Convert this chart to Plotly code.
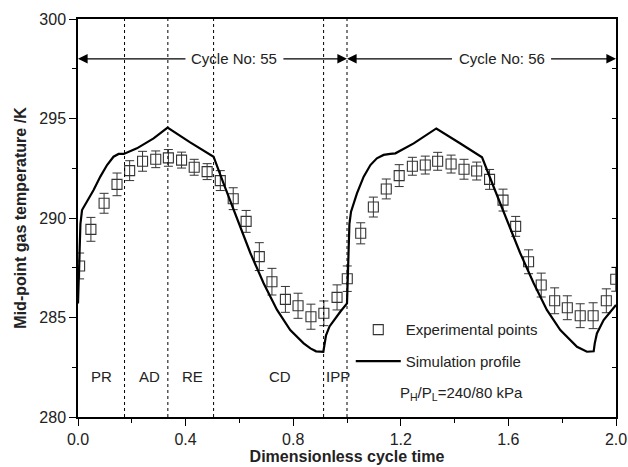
import plotly.graph_objects as go

# Experimental points (dimensionless time, temperature K, error K)
exp_x = [0.006, 0.048, 0.097, 0.145, 0.192, 0.240, 0.289, 0.336, 0.385, 0.432, 0.480,
         0.529, 0.577, 0.625, 0.674, 0.721, 0.771, 0.818, 0.866, 0.914, 0.963, 1.001,
         1.051, 1.098, 1.146, 1.194, 1.243, 1.291, 1.337, 1.387, 1.435, 1.482, 1.530,
         1.580, 1.627, 1.675, 1.722, 1.772, 1.819, 1.867, 1.915, 1.964, 1.999]
exp_y = [287.59, 289.43, 290.74, 291.69, 292.38, 292.85, 292.95, 293.02, 292.91, 292.55, 292.33,
         291.88, 290.97, 289.83, 288.06, 286.80, 285.91, 285.59, 285.04, 285.21, 286.01, 286.95,
         289.23, 290.55, 291.46, 292.13, 292.60, 292.66, 292.85, 292.71, 292.45, 292.36, 291.94,
         290.90, 289.58, 287.80, 286.63, 285.84, 285.49, 285.09, 285.09, 285.84, 286.92]
exp_err = [0.65, 0.6, 0.5, 0.57, 0.5, 0.5, 0.42, 0.42, 0.4, 0.4, 0.4,
           0.5, 0.55, 0.55, 0.7, 0.67, 0.65, 0.63, 0.63, 0.62, 0.63, 0.64,
           0.53, 0.5, 0.5, 0.55, 0.45, 0.45, 0.45, 0.45, 0.5, 0.45, 0.5,
           0.55, 0.5, 0.6, 0.6, 0.65, 0.6, 0.6, 0.65, 0.6, 0.6]

# Simulation profile
sim_x = [0.0, 0.004, 0.009, 0.015, 0.033, 0.058, 0.083, 0.108, 0.132, 0.151, 0.170,
         0.219, 0.281, 0.333, 0.417, 0.504, 0.541, 0.591, 0.641, 0.690, 0.740, 0.789,
         0.839, 0.864, 0.885, 0.912, 0.917, 0.922, 0.935, 0.950, 0.975, 1.0,
         1.004, 1.009, 1.015, 1.037, 1.062, 1.087, 1.111, 1.136, 1.161, 1.180,
         1.248, 1.332, 1.417, 1.502, 1.545, 1.607, 1.644, 1.694, 1.743, 1.793,
         1.830, 1.855, 1.892, 1.917, 1.921, 1.929, 1.954, 1.978, 2.0]
sim_y = [285.70, 288.0, 289.7, 290.40, 290.82, 291.41, 292.08, 292.66, 293.08, 293.22, 293.22,
         293.50, 294.00, 294.54, 293.80, 293.08, 291.74, 290.00, 288.23, 286.72, 285.38, 284.37,
         283.70, 283.45, 283.30, 283.28, 283.60, 284.10, 284.55, 284.85, 285.29, 285.71,
         288.0, 289.7, 290.32, 291.24, 292.08, 292.66, 293.00, 293.17, 293.22, 293.25,
         293.75, 294.50, 293.78, 293.05, 291.57, 289.50, 288.23, 286.72, 285.38, 284.37,
         283.85, 283.53, 283.28, 283.30, 283.70, 284.20, 284.87, 285.29, 285.63]

phase_bounds = [0.173, 0.334, 0.504, 0.913, 1.0]
phase_labels = ["PR", "AD", "RE", "CD", "IPP"]
phase_label_x = [0.086, 0.264, 0.427, 0.75, 0.965]

FONT = "Arial, Liberation Sans, sans-serif"
TXT = "#222222"

fig = go.Figure()
fig.add_trace(go.Scatter(
    x=exp_x, y=exp_y, mode="markers", name="Experimental points",
    legendgroup="a",
    marker=dict(symbol="square-open", size=10, color="#333333", line=dict(width=1.1, color="#333333")),
    error_y=dict(type="data", array=exp_err, visible=True, color="#333333", thickness=1, width=4.5),
))
fig.add_trace(go.Scatter(
    x=sim_x, y=sim_y, mode="lines", name="Simulation profile",
    legendgroup="b",
    line=dict(color="black", width=2.2),
))
# invisible trace for right-side inward ticks
fig.add_trace(go.Scatter(x=[0, 2], y=[280, 300], yaxis="y2", mode="markers",
                         marker=dict(opacity=0), showlegend=False, hoverinfo="skip"))

for b in phase_bounds:
    fig.add_shape(type="line", x0=b, x1=b, y0=280, y1=300, xref="x", yref="y",
                  line=dict(color="black", width=1, dash="dot"))

annos = []
for lab, lx in zip(phase_labels, phase_label_x):
    annos.append(dict(x=lx, y=282.03, text=lab, showarrow=False, xref="x", yref="y",
                      font=dict(size=15, color=TXT, family=FONT)))

def arrow(head, tail, y):
    return dict(x=head, y=y, ax=tail, ay=y, xref="x", yref="y", axref="x", ayref="y",
                text="", showarrow=True, arrowhead=2, arrowsize=1.6, arrowwidth=1.2,
                arrowcolor="black", standoff=0, startstandoff=0)

arrow_y = 298.0
annos += [arrow(0.0, 0.405, arrow_y), arrow(1.0, 0.758, arrow_y),
          arrow(1.0, 1.396, arrow_y), arrow(2.0, 1.753, arrow_y)]
annos.append(dict(x=0.581, y=arrow_y, text="Cycle No: 55", showarrow=False, xref="x", yref="y",
                  font=dict(size=15, color=TXT, family=FONT)))
annos.append(dict(x=1.575, y=arrow_y, text="Cycle No: 56", showarrow=False, xref="x", yref="y",
                  font=dict(size=15, color=TXT, family=FONT)))
annos.append(dict(x=1.427, y=281.19, text="P<sub>H</sub>/P<sub>L</sub>=240/80 kPa", showarrow=False,
                  xref="x", yref="y", font=dict(size=15, color=TXT, family=FONT)))

fig.update_layout(
    width=628, height=467,
    margin=dict(l=78, r=12, t=19, b=50, autoexpand=False),
    paper_bgcolor="white", plot_bgcolor="white",
    font=dict(family=FONT, size=16, color=TXT),
    showlegend=True,
    legend=dict(x=0.507, y=0.18, xanchor="left", yanchor="middle", itemwidth=45,
                bgcolor="rgba(0,0,0,0)", font=dict(size=15, family=FONT, color=TXT),
                traceorder="grouped", tracegroupgap=9),
    annotations=annos,
    xaxis=dict(range=[0, 2], tickvals=[0, 0.4, 0.8, 1.2, 1.6, 2.0],
               ticktext=["0.0", "0.4", "0.8", "1.2", "1.6", "2.0"],
               ticks="outside", ticklen=7, tickwidth=1.2, tickcolor="black",
               minor=dict(tickvals=[0.2, 0.6, 1.0, 1.4, 1.8], ticks="outside", ticklen=4, tickcolor="black"),
               showline=True, linecolor="black", linewidth=1.5, mirror=True,
               showgrid=False, zeroline=False, automargin=False,
               title=dict(text="<b>Dimensionless cycle time</b>", font=dict(size=16, family=FONT), standoff=2),
               tickfont=dict(size=16, family=FONT)),
    yaxis=dict(range=[280, 300], tickvals=[280, 285, 290, 295, 300],
               ticks="outside", ticklen=7, tickwidth=1.2, tickcolor="black",
               minor=dict(tickvals=[282.5, 287.5, 292.5, 297.5], ticks="outside", ticklen=4, tickcolor="black"),
               showline=True, linecolor="black", linewidth=1.5, mirror=True,
               showgrid=False, zeroline=False, automargin=False,
               title=dict(text="<b>Mid-point gas temperature /K</b>", font=dict(size=16, family=FONT), standoff=9),
               tickfont=dict(size=16, family=FONT)),
    yaxis2=dict(range=[280, 300], overlaying="y", side="right", showticklabels=False,
                tickvals=[280, 282.5, 285, 287.5, 290, 292.5, 295, 297.5, 300],
                ticks="inside", ticklen=4, tickcolor="black", showgrid=False, zeroline=False,
                showline=False, automargin=False),
)

fig.write_html("out.html")
